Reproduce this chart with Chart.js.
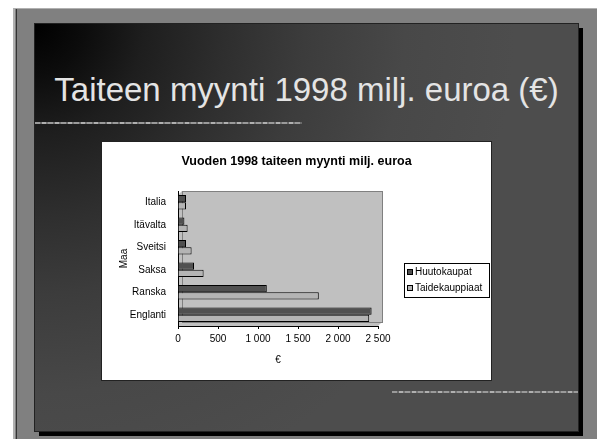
<!DOCTYPE html>
<html lang="fi">
<head>
    <meta charset="UTF-8">
    <title>Taiteen myynti 1998</title>
    <script src="https://cdn.jsdelivr.net/npm/chart.js"></script>
    <style>
        html, body { margin: 0; padding: 0; width: 597px; height: 439px; overflow: hidden; background: #fff; font-family: 'Liberation Sans', Arial, sans-serif; }
        .frame { position: absolute; left: 13px; top: 8px; right: 0; bottom: 0; background: #808080; border-left: 2px solid #b0b0b0; border-top: 1px solid #b0b0b0; }
        .frame .edge { position: absolute; left: 1px; top: 0; bottom: 0; width: 1px; background: #333; }
        .shadow { position: absolute; left: 39px; top: 28px; width: 544px; height: 408px; background: #000; }
        .slide { position: absolute; left: 34px; top: 23px; width: 543px; height: 407px; border: 1px solid #222;
                 background: radial-gradient(circle at 0 0, #000 0px, #0c0c0c 50px, #1e1e1e 110px, #2e2e2e 190px, #3c3c3c 270px, #484848 370px, #4d4d4d 480px); }
        .title { position: absolute; left: 34px; width: 545px; top: 70px; text-align: center; color: #e4e4e4; font-size: 33px; line-height: 39px; white-space: nowrap; }
        .rule { position: absolute; height: 2px; background: repeating-linear-gradient(90deg, #9a9a9a 0 5px, #6a6a6a 5px 7px, #b0b0b0 7px 11px, #777 11px 13px); }
        .box { position: absolute; left: 101px; top: 141px; width: 391px; height: 240px; background: #fff; border: 1px solid #222; box-sizing: border-box; }
        .box canvas { position: absolute; left: 0; top: 0; }
    </style>
</head>
<body>
    <div class="frame"><div class="edge"></div></div>
    <div class="shadow"></div>
    <div class="slide"></div>
    <div class="title">Taiteen myynti 1998 milj. euroa (€)</div>
    <div class="rule" style="left:35px; top:122px; width:267px;"></div>
    <div class="rule" style="left:392px; top:391px; width:186px;"></div>
    <div class="box"><canvas id="chart" width="389" height="238"></canvas></div>

    <script>
        // maat ylhäältä alas
        const countries = ['Italia', 'Itävalta', 'Sveitsi', 'Saksa', 'Ranska', 'Englanti'];
        const auctions = [100, 80, 100, 200, 1110, 2420];     // Huutokaupat
        const dealers = [100, 120, 170, 320, 1760, 2390];     // Taidekauppiaat
        const xTicks = [0, 500, 1000, 1500, 2000, 2500];
        const chartTitle = 'Vuoden 1998 taiteen myynti milj. euroa';
        const font = '"Liberation Sans", Arial, sans-serif';

        const decor = {
            id: 'decor',
            beforeDraw(chart) {
                const { ctx, chartArea: a } = chart;
                ctx.save();
                // takaseinä (3D-vaikutelma)
                ctx.fillStyle = '#c0c0c0';
                ctx.beginPath();
                ctx.moveTo(a.left, a.top + 4);
                ctx.lineTo(a.left + 4, a.top);
                ctx.lineTo(a.right + 4, a.top);
                ctx.lineTo(a.right + 4, a.bottom - 4);
                ctx.lineTo(a.right, a.bottom);
                ctx.lineTo(a.left, a.bottom);
                ctx.closePath();
                ctx.fill();
                ctx.strokeStyle = '#808080';
                ctx.lineWidth = 1;
                ctx.strokeRect(a.left + 4.5, a.top + 0.5, a.width, a.height - 4);
                // otsikko koko kaavion leveydelle
                ctx.fillStyle = '#000';
                ctx.font = 'bold 12.5px ' + font;
                ctx.textAlign = 'center';
                ctx.textBaseline = 'middle';
                ctx.fillText(chartTitle, chart.width / 2, 20);
                ctx.restore();
            },
            afterDraw(chart) {
                // selite
                const { ctx } = chart;
                const x = 302, y = 121, w = 85, h = 34;
                ctx.save();
                ctx.fillStyle = '#fff';
                ctx.fillRect(x, y, w, h);
                ctx.strokeStyle = '#000';
                ctx.lineWidth = 1;
                ctx.strokeRect(x + 0.5, y + 0.5, w, h);
                ctx.font = '10px ' + font;
                ctx.textBaseline = 'middle';
                chart.data.datasets.forEach((ds, i) => {
                    const cy = y + 9 + i * 16;
                    ctx.fillStyle = ds.backgroundColor;
                    ctx.fillRect(x + 3.5, cy - 2.5, 5, 5);
                    ctx.strokeStyle = '#000';
                    ctx.strokeRect(x + 3.5, cy - 2.5, 5, 5);
                    ctx.fillStyle = '#000';
                    ctx.fillText(ds.label, x + 11, cy + 0.5);
                });
                ctx.restore();
            }
        };

        new Chart('chart', {
            type: 'bar',
            data: {
                labels: countries,
                datasets: [
                    { label: 'Huutokaupat', data: auctions, backgroundColor: '#505050', borderColor: '#000', borderWidth: 1 },
                    { label: 'Taidekauppiaat', data: dealers, backgroundColor: '#b4b4b4', borderColor: '#000', borderWidth: 1 }
                ]
            },
            options: {
                indexAxis: 'y',
                responsive: false,
                animation: false,
                devicePixelRatio: 1,
                layout: { padding: { left: 12, right: 113, top: 49, bottom: 8 } },
                datasets: { bar: { categoryPercentage: 0.64, barPercentage: 1 } },
                plugins: {
                    legend: { display: false },
                    tooltip: { enabled: false },
                    title: { display: false }
                },
                scales: {
                    x: {
                        min: 0, max: 2500,
                        afterBuildTicks(s) { s.ticks = xTicks.map(v => ({ value: v })); },
                        afterFit(s) { s.height = 46; },
                        grid: { display: true, drawOnChartArea: false, drawTicks: true, tickLength: 3, color: '#000' },
                        border: { color: '#000' },
                        ticks: {
                            color: '#000', padding: 4,
                            font: { family: font, size: 10 },
                            callback: v => v >= 1000 ? Math.floor(v / 1000) + ' ' + String(v % 1000).padStart(3, '0') : String(v)
                        },
                        title: { display: true, text: '€', color: '#000', padding: { top: 4, bottom: 6 },
                                 font: { family: font, size: 10 } }
                    },
                    y: {
                        afterFit(s) { s.width = 64; },
                        grid: { display: false },
                        border: { color: '#000' },
                        ticks: { color: '#000', padding: 4, font: { family: font, size: 10 } },
                        title: { display: true, text: 'Maa', color: '#000', padding: { top: 4, bottom: 0 },
                                 font: { family: font, size: 10 } }
                    }
                }
            },
            plugins: [decor]
        });
    </script>
</body>
</html>
